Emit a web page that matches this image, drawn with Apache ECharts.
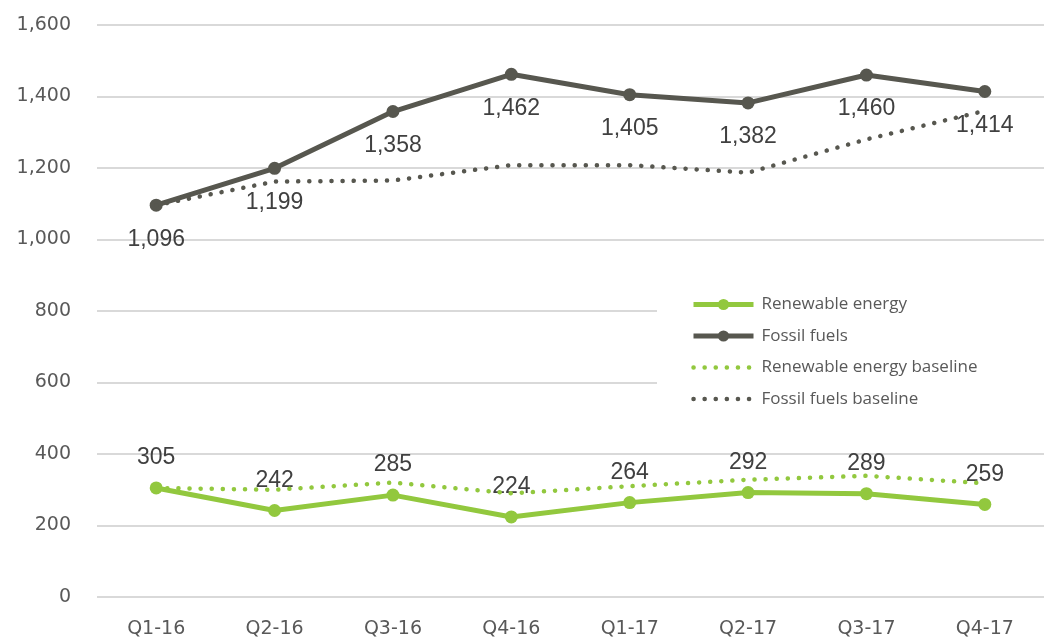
<!DOCTYPE html>
<html>
<head>
<meta charset="utf-8">
<script src="https://cdn.jsdelivr.net/npm/echarts@6/dist/echarts.min.js"></script>
<style>
html, body { margin: 0; padding: 0; background: #fff; }
#chart { width: 1044px; height: 643px; }
</style>
</head>
<body>
<div id="chart"></div>
<script>
const quarters = ['Q1-16', 'Q2-16', 'Q3-16', 'Q4-16', 'Q1-17', 'Q2-17', 'Q3-17', 'Q4-17'];
const renewable = [305, 242, 285, 224, 264, 292, 289, 259];
const fossil = [1096, 1199, 1358, 1462, 1405, 1382, 1460, 1414];
const renewableBaseline = [305, 300, 320, 290, 310, 328, 339, 318];
const fossilBaseline = [1096, 1162, 1165, 1208, 1208, 1187, 1280, 1360];

const green = '#92c83e';
const dark = '#57574f';

function solid(name, data, color, labelPos, dist) {
    return {
        name: name,
        type: 'line',
        data: data,
        symbol: 'circle',
        symbolSize: 13,
        z: 3,
        lineStyle: { color: color, width: 5 },
        itemStyle: { color: color },
        label: {
            show: true,
            position: labelPos,
            distance: dist,
            color: '#404040',
            fontFamily: 'Liberation Sans',
            fontSize: 23,
            formatter: p => p.value.toLocaleString('en-US')
        }
    };
}

function dotted(name, data, color) {
    return {
        name: name,
        type: 'line',
        data: data,
        symbol: 'none',
        z: 4,
        itemStyle: { color: color },
        lineStyle: { color: color, width: 4.5, type: [0.1, 11], cap: 'round' }
    };
}

const option = {
    animation: false,
    grid: { left: 97, right: -12, top: 25, bottom: 46 },
    legend: {
        orient: 'vertical',
        left: 657,
        top: 288,
        padding: [8, 80, 10, 34],
        backgroundColor: '#fff',
        itemWidth: 60,
        itemHeight: 14,
        itemGap: 14.5,
        textStyle: { color: '#595959', fontSize: 17, fontFamily: 'Open Sans', padding: [0, 0, 0, 3] },
        data: [
            { name: 'Renewable energy', lineStyle: { width: 5 } },
            { name: 'Fossil fuels', lineStyle: { width: 5 } },
            { name: 'Renewable energy baseline', lineStyle: { width: 4.5 }, itemStyle: { opacity: 0 } },
            { name: 'Fossil fuels baseline', lineStyle: { width: 4.5 }, itemStyle: { opacity: 0 } }
        ]
    },
    xAxis: {
        type: 'category',
        data: quarters,
        axisLine: { show: false },
        axisTick: { show: false },
        axisLabel: { color: '#595959', fontSize: 19, fontFamily: 'DejaVu Sans', margin: 23 }
    },
    yAxis: {
        type: 'value',
        min: 0,
        max: 1600,
        interval: 200,
        axisLine: { show: false },
        axisTick: { show: false },
        splitLine: { lineStyle: { color: '#d9d9d9', width: 2 } },
        axisLabel: {
            color: '#595959', fontSize: 19, fontFamily: 'DejaVu Sans', margin: 26,
            formatter: v => v.toLocaleString('en-US')
        }
    },
    series: [
        solid('Renewable energy', renewable, green, 'top', 12),
        solid('Fossil fuels', fossil, dark, 'bottom', 16),
        dotted('Renewable energy baseline', renewableBaseline, green),
        dotted('Fossil fuels baseline', fossilBaseline, dark)
    ]
};

let chart = echarts.init(document.getElementById('chart'));
chart.setOption(option);
</script>
</body>
</html>
